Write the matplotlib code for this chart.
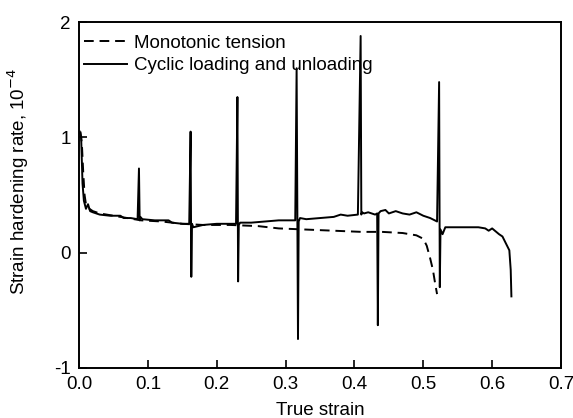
import matplotlib
matplotlib.use('Agg')
from matplotlib import pyplot as plt
from matplotlib.ticker import FormatStrFormatter

plt.rcParams['font.family'] = ['Liberation Sans', 'DejaVu Sans']
plt.rcParams['axes.unicode_minus'] = False

# monotonic tension (dashed)
mono_x = [0.002, 0.004, 0.006, 0.008, 0.010, 0.015, 0.02, 0.03, 0.05, 0.07, 0.09,
          0.12, 0.15, 0.18, 0.22, 0.26, 0.29, 0.33, 0.37, 0.41, 0.44, 0.47,
          0.49, 0.50, 0.505, 0.510, 0.514, 0.517, 0.520]
mono_y = [1.05, 0.95, 0.70, 0.50, 0.42, 0.38, 0.36, 0.34, 0.32, 0.30, 0.28,
          0.27, 0.25, 0.24, 0.24, 0.23, 0.21, 0.20, 0.19, 0.18, 0.18, 0.17,
          0.15, 0.12, 0.06, -0.05, -0.15, -0.26, -0.36]

# cyclic loading and unloading (solid)
cyc_x = [0.001, 0.003, 0.005, 0.007, 0.010, 0.013, 0.016, 0.02, 0.03, 0.045, 0.06,
         0.065, 0.075, 0.085,
         0.087, 0.088, 0.089, 0.092, 0.11, 0.13, 0.135, 0.15, 0.160,
         0.162, 0.163, 0.164, 0.166, 0.18, 0.20, 0.228,
         0.230, 0.231, 0.232, 0.234, 0.25, 0.27, 0.29, 0.314,
         0.316, 0.318, 0.319, 0.321, 0.33, 0.35, 0.37, 0.38, 0.39, 0.405,
         0.409, 0.410, 0.411, 0.414, 0.42, 0.43, 0.433,
         0.434, 0.435, 0.438, 0.445, 0.45, 0.46, 0.47, 0.48, 0.49, 0.50, 0.51, 0.520,
         0.523, 0.524, 0.525, 0.528, 0.532, 0.54, 0.56, 0.58, 0.59,
         0.595, 0.60, 0.61, 0.615, 0.62, 0.625, 0.627, 0.628]
cyc_y = [1.05, 1.00, 0.60, 0.45, 0.38, 0.42, 0.36, 0.35, 0.33, 0.32, 0.32,
         0.30, 0.30, 0.29,
         0.73, 0.28, 0.31, 0.29, 0.28, 0.28, 0.26, 0.25, 0.25,
         1.05, -0.21, 0.25, 0.22, 0.24, 0.25, 0.25,
         1.35, -0.25, 0.24, 0.26, 0.26, 0.27, 0.28, 0.28,
         1.60, -0.75, 0.27, 0.30, 0.29, 0.30, 0.31, 0.33, 0.32, 0.33,
         1.88, 0.33, 0.35, 0.34, 0.35, 0.33, 0.34,
         -0.63, 0.34, 0.36, 0.37, 0.34, 0.36, 0.34, 0.33, 0.35, 0.32, 0.30, 0.27,
         1.48, -0.30, 0.20, 0.16, 0.22, 0.22, 0.22, 0.22, 0.21,
         0.19, 0.21, 0.16, 0.14, 0.08, 0.02, -0.15, -0.38]

fig = plt.figure(figsize=(5.73, 4.18), dpi=100)
ax = fig.add_axes([0.138, 0.12, 0.841, 0.827])

ax.plot(mono_x, mono_y, color='black', lw=1.4, dashes=(5, 3), label='Monotonic tension')
ax.plot(cyc_x, cyc_y, '-', color='black', lw=1.4, label='Cyclic loading and unloading')

ax.set_xlim(0.0, 0.7)
ax.set_ylim(-1, 2)
ax.set_xticks([0.0, 0.1, 0.2, 0.3, 0.4, 0.5, 0.6, 0.7])
ax.set_yticks([-1, 0, 1, 2])
ax.xaxis.set_major_formatter(FormatStrFormatter('%.1f'))
ax.tick_params(direction='in', labelsize=13.5, length=6, width=1.2, top=False, right=False)
ax.tick_params(axis='x', pad=6)
ax.tick_params(axis='y', pad=6)
for s in ax.spines.values():
    s.set_linewidth(1.4)

ax.set_xlabel('True strain', fontsize=13.5)
ax.xaxis.set_label_coords(0.5, -0.098)
ax.set_ylabel('Strain hardening rate, 10$^{-4}$',
              family=['Liberation Sans Narrow', 'Liberation Sans', 'DejaVu Sans'], fontsize=13.5)
ax.yaxis.set_label_coords(-0.1, 0.54)

ax.legend(loc='upper left', bbox_to_anchor=(0.002, 0.975), frameon=False, fontsize=13.5,
          handlelength=2.3, borderaxespad=0.0, borderpad=0.2, labelspacing=0.3,
          handletextpad=0.4)

fig.savefig('out.png', dpi=100)
